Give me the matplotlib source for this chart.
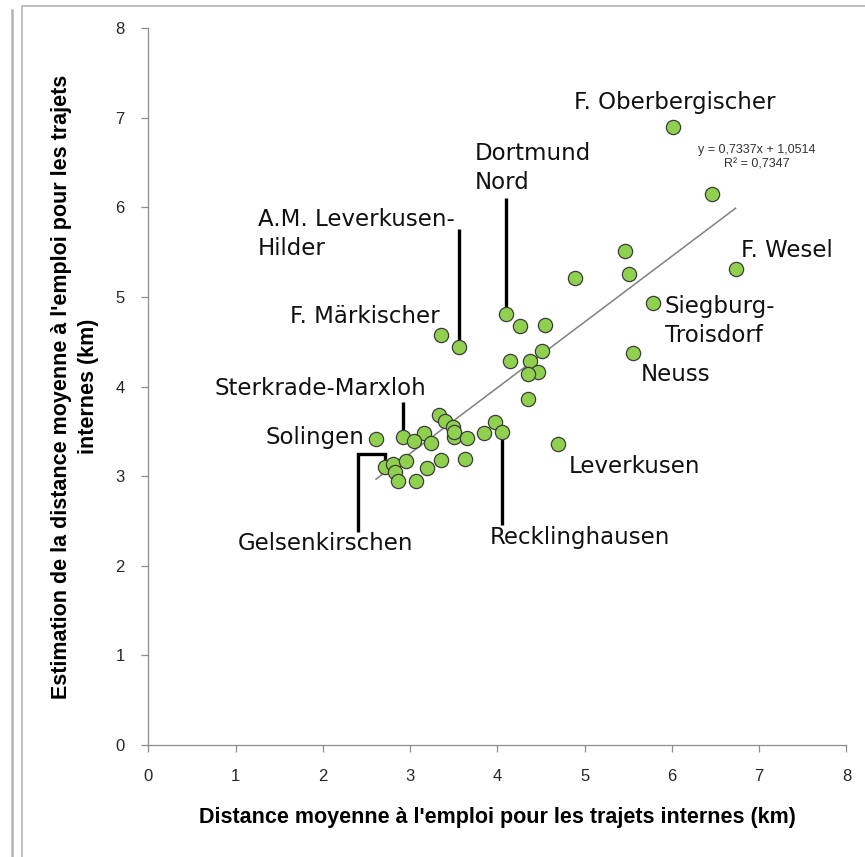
import matplotlib
matplotlib.use("Agg")
import matplotlib.pyplot as plt
from matplotlib.lines import Line2D

# Mean commuting distance for internal trips (km): observed vs. estimated
obs_km = [6.01, 6.46, 5.46, 5.51, 6.73, 4.89, 5.78, 5.56,
          4.10, 4.26, 4.55, 3.36, 3.56, 4.51, 4.14, 4.37, 4.47, 4.35, 4.35,
          2.61, 2.92, 3.33, 3.40, 3.49, 3.16, 3.04, 3.24, 3.50, 3.50, 3.65,
          3.85, 3.97, 4.05, 4.69,
          2.71, 2.81, 2.83, 2.95, 2.86, 3.07, 3.19, 3.36, 3.63]
est_km = [6.90, 6.15, 5.51, 5.26, 5.31, 5.21, 4.93, 4.37,
          4.81, 4.67, 4.69, 4.57, 4.44, 4.40, 4.29, 4.28, 4.16, 4.14, 3.86,
          3.41, 3.44, 3.68, 3.61, 3.55, 3.48, 3.39, 3.37, 3.44, 3.49, 3.43,
          3.48, 3.60, 3.49, 3.36,
          3.10, 3.13, 3.05, 3.17, 2.95, 2.95, 3.09, 3.18, 3.19]

# Named areas (index into the arrays above)
area_names = {
    0: "F. Oberbergischer",
    4: "F. Wesel",
    6: "Siegburg-\nTroisdorf",
    7: "Neuss",
    8: "Dortmund\nNord",
    11: "F. Märkischer",
    12: "A.M. Leverkusen-\nHilder",
    19: "Solingen",
    20: "Sterkrade-Marxloh",
    32: "Recklinghausen",
    33: "Leverkusen",
    34: "Gelsenkirschen",
}

slope, intercept, r2 = 0.7337, 1.0514, 0.7347

xticks = list(range(0, 9))
yticks = list(range(0, 9))
xlabel = "Distance moyenne à l'emploi pour les trajets internes (km)"
ylabel = "Estimation de la distance moyenne à l'emploi pour les trajets\ninternes (km)"

label_font = ["Liberation Sans Narrow", "Liberation Sans", "DejaVu Sans"]

fig = plt.figure(figsize=(8.65, 8.57), dpi=100)
ax = fig.add_axes([0.1714, 0.1307, 0.8071, 0.8366])

# frame lines of the chart area
fig.add_artist(Line2D([12/865, 12/865], [0, 1 - 10/857], transform=fig.transFigure,
                      color="#b4b4b4", lw=1.8))
fig.add_artist(Line2D([22/865, 22/865, 1], [0, 1 - 6/857, 1 - 6/857],
                      transform=fig.transFigure, color="#b4b4b4", lw=1.2))

# linear trend line over the observed range
x0, x1 = min(obs_km), max(obs_km)
ax.plot([x0, x1], [slope * x0 + intercept, slope * x1 + intercept],
        color="#808080", lw=1.1, zorder=2)

ax.scatter(obs_km, est_km, s=105, c="#8fd14f", edgecolors="#3c3c3c",
           linewidths=0.9, zorder=3)

ax.set_xlim(0, 8)
ax.set_ylim(0, 8)
ax.set_xticks(xticks)
ax.set_yticks(yticks)
ax.tick_params(direction="out", length=5, width=0.9, color="#8c8c8c",
               labelsize=12, labelcolor="#262626", pad=12)
for lab in ax.get_xticklabels() + ax.get_yticklabels():
    lab.set_family(label_font)
for side in ("top", "right"):
    ax.spines[side].set_visible(False)
for side in ("left", "bottom"):
    ax.spines[side].set_color("#8c8c8c")
    ax.spines[side].set_linewidth(0.9)

ax.set_xlabel(xlabel, fontsize=15.5, fontweight="bold", family=label_font,
              labelpad=17)
ax.set_ylabel(ylabel, fontsize=15.5, fontweight="bold", family=label_font,
              labelpad=12, linespacing=1.35)

# area name annotations: text position, alignment
txt_kw = dict(fontsize=16.5, family="DejaVu Sans", color="#111111",
              linespacing=1.3, zorder=4)
name_pos = {
    0: (6.03, 7.17, "center"),
    4: (6.79, 5.52, "left"),
    6: (5.92, 4.73, "left"),
    7: (5.64, 4.13, "left"),
    8: (3.74, 6.44, "left"),
    11: (3.34, 4.78, "right"),
    12: (1.26, 5.70, "left"),
    19: (2.48, 3.43, "right"),
    20: (0.76, 3.98, "left"),
    32: (3.91, 2.32, "left"),
    33: (4.82, 3.11, "left"),
    34: (1.03, 2.25, "left"),
}
for idx, name in area_names.items():
    tx, ty, ha = name_pos[idx]
    ax.text(tx, ty, name, ha=ha, va="center", **txt_kw)

# leader lines from names to their points
lead_kw = dict(color="black", lw=2.4, zorder=2.5, solid_capstyle="butt")
ax.plot([obs_km[8]] * 2, [6.10, est_km[8]], **lead_kw)
ax.plot([obs_km[12]] * 2, [5.76, est_km[12]], **lead_kw)
ax.plot([obs_km[20]] * 2, [3.83, est_km[20]], **lead_kw)
ax.plot([obs_km[32]] * 2, [est_km[32], 2.46], **lead_kw)
ax.plot([2.40, 2.40, obs_km[34], obs_km[34]], [2.38, 3.25, 3.25, est_km[34]],
        solid_joinstyle="miter", **lead_kw)


def fr(v):
    return f"{v:.4f}".replace(".", ",")


# regression equation
ax.text(6.97, 6.56, f"y = {fr(slope)}x + {fr(intercept)}\nR² = {fr(r2)}",
        ha="center", va="center", fontsize=9, family=label_font,
        color="#333333", linespacing=1.3, zorder=4)

fig.savefig("out.png", dpi=100)
